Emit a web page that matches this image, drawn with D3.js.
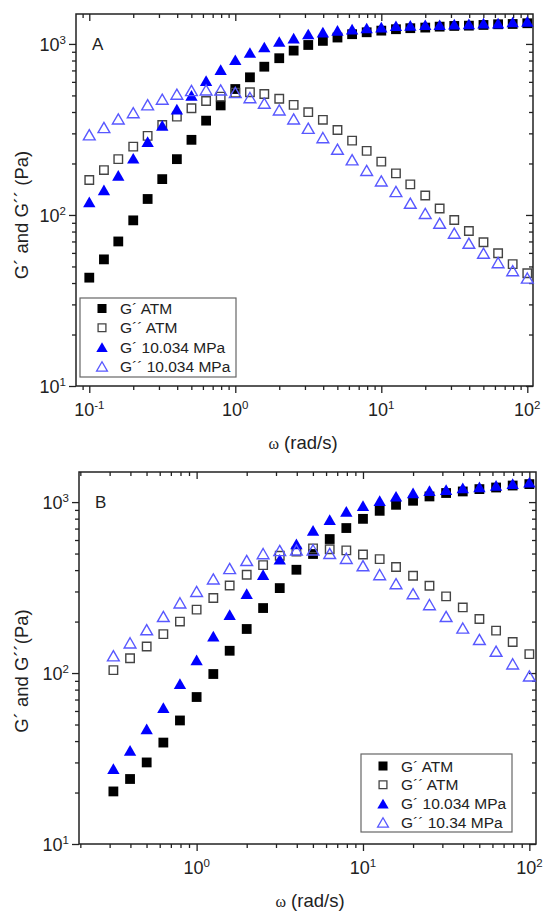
<!DOCTYPE html>
<html>
<head>
<meta charset="utf-8">
<script src="https://cdn.jsdelivr.net/npm/d3@7"></script>
<style>
body { margin: 0; background: #fff; }
svg { display: block; font-family: "Liberation Sans", Arial, sans-serif; }
</style>
</head>
<body>
<script>
// angular frequency (rad/s)
const omegaA = [0.1, 0.126, 0.158, 0.2, 0.251, 0.316, 0.398, 0.501, 0.631, 0.794,
  1, 1.26, 1.58, 2, 2.51, 3.16, 3.98, 5.01, 6.31, 7.94,
  10, 12.6, 15.8, 20, 25.1, 31.6, 39.8, 50.1, 63.1, 79.4, 100];
const omegaB = [0.316, 0.398, 0.501, 0.631, 0.794,
  1, 1.26, 1.58, 2, 2.51, 3.16, 3.98, 5.01, 6.31, 7.94,
  10, 12.6, 15.8, 20, 25.1, 31.6, 39.8, 50.1, 63.1, 79.4, 100];

// panel A moduli (Pa)
const gpAtmA = [43, 55, 70, 93, 124, 162, 212, 275, 356, 437, 545, 638, 736, 825, 914, 986,
  1042, 1090, 1140, 1170, 1196, 1219, 1236, 1246, 1262, 1274, 1279, 1291, 1303, 1308, 1321];
const gppAtmA = [160, 183, 212, 251, 290, 336, 376, 421, 464, 492, 519, 522, 510, 478, 440, 399,
  360, 314, 272, 237, 205, 175, 151, 130, 109, 93.5, 80.6, 69.2, 59.7, 51.6, 45.6];
const gpHpA = [119, 140, 170, 214, 268, 333, 415, 499, 608, 705, 806, 889, 957, 1031, 1080, 1140,
  1170, 1196, 1219, 1236, 1251, 1274, 1279, 1291, 1291, 1303, 1308, 1321, 1321, 1340, 1352];
const gppHpA = [294, 324, 364, 396, 440, 475, 508, 533, 538, 538, 519, 485, 450, 411, 364, 321,
  283, 242, 210, 182, 158, 137, 117, 102, 89.4, 78.2, 68.3, 59.7, 52.6, 47.2, 42.7];

// panel B moduli (Pa)
const gpAtmB = [20.3, 24.0, 30.0, 39.2, 52.8, 72.4, 98.7, 135, 181, 240, 314, 402, 497,
  608, 705, 798, 889, 964, 1018, 1079, 1130, 1154, 1191, 1217, 1250, 1274];
const gppAtmB = [104, 122, 143, 169, 200, 235, 275, 325, 376, 428, 485, 514, 536,
  530, 522, 494, 464, 417, 371, 324, 281, 242, 207, 177, 152, 129];
const gpHpB = [27.5, 35.2, 47.0, 62.6, 86.5, 119, 164, 219, 291, 376, 462, 568, 682,
  788, 881, 951, 1018, 1079, 1130, 1164, 1180, 1208, 1224, 1250, 1279, 1303];
const gppHpB = [126, 150, 179, 214, 257, 300, 355, 408, 455, 499, 520, 524, 525,
  500, 468, 424, 376, 333, 291, 251, 214, 183, 157, 134, 113, 96];

const legendA = ["G\u00b4 ATM", "G\u00b4\u00b4 ATM", "G\u00b4 10.034 MPa", "G\u00b4\u00b4 10.034 MPa"];
const legendB = ["G\u00b4 ATM", "G\u00b4\u00b4 ATM", "G\u00b4 10.034 MPa", "G\u00b4\u00b4 10.34 MPa"];

const W = 550, H = 911;
const svg = d3.select("body").append("svg")
    .attr("width", W)
    .attr("height", H);

svg.append("rect").attr("width", W).attr("height", H).attr("fill", "#fff");

// marker styles in legend order
const styles = [
  {shape: d3.symbolSquare, size: 96, fill: "#000", stroke: "none", dy: 0},
  {shape: d3.symbolSquare, size: 72, fill: "none", stroke: "#444", dy: 0},
  {shape: d3.symbolTriangle, size: 66, fill: "#0000ff", stroke: "none", dy: 1.6},
  {shape: d3.symbolTriangle, size: 60, fill: "none", stroke: "#5858ff", dy: 1.6},
];

function drawPanel(p) {
  const x = d3.scaleLog().domain(p.xDomain).range([p.left, p.right]);
  const y = d3.scaleLog().domain(p.yDomain).range([p.bottom, p.top]);
  const g = svg.append("g");

  const isMajor = v => Math.abs(Math.log10(v) - Math.round(Math.log10(v))) < 1e-6;
  const xt = x.ticks(), yt = y.ticks();
  const xMaj = xt.filter(isMajor), xMin = xt.filter(v => !isMajor(v));
  const yMaj = yt.filter(isMajor), yMin = yt.filter(v => !isMajor(v));

  function ticks(axis, tr, vals, size) {
    g.append("g")
        .attr("transform", tr)
        .call(axis.tickValues(vals).tickSize(size).tickFormat(""))
        .call(s => s.select(".domain").remove())
        .selectAll("line")
        .attr("stroke", "#222")
        .attr("stroke-width", 1.3);
  }
  // bottom/left point out, top/right point in (same direction as Origin)
  ticks(d3.axisBottom(x), `translate(0,${p.bottom})`, xMaj, 7);
  ticks(d3.axisBottom(x), `translate(0,${p.bottom})`, xMin, 4);
  ticks(d3.axisTop(x), `translate(0,${p.top})`, xMaj, -7);
  ticks(d3.axisTop(x), `translate(0,${p.top})`, xMin, -4);
  ticks(d3.axisLeft(y), `translate(${p.left},0)`, yMaj, 7);
  ticks(d3.axisLeft(y), `translate(${p.left},0)`, yMin, 4);
  ticks(d3.axisRight(y), `translate(${p.right},0)`, yMaj, -7);
  ticks(d3.axisRight(y), `translate(${p.right},0)`, yMin, -4);

  g.append("rect")
      .attr("x", p.left).attr("y", p.top)
      .attr("width", p.right - p.left).attr("height", p.bottom - p.top)
      .attr("fill", "none")
      .attr("stroke", "#222")
      .attr("stroke-width", 1.5);

  // tick labels, 10 with superscript exponent
  const xl = g.append("g").selectAll("text").data(xMaj).join("text")
      .attr("x", d => x(d))
      .attr("y", p.bottom + 30)
      .attr("text-anchor", "middle")
      .attr("font-size", 18)
      .attr("fill", "#222");
  xl.append("tspan").text("10");
  xl.append("tspan").attr("dy", -7).attr("font-size", 11.5)
      .text(d => Math.round(Math.log10(d)));

  const yl = g.append("g").selectAll("text").data(yMaj).join("text")
      .attr("x", p.left - 10)
      .attr("y", d => y(d) + 7)
      .attr("text-anchor", "end")
      .attr("font-size", 18)
      .attr("fill", "#222");
  yl.append("tspan").text("10");
  yl.append("tspan").attr("dy", -7).attr("font-size", 11.5)
      .text(d => Math.round(Math.log10(d)));

  // axis titles
  const xt2 = g.append("text")
      .attr("x", p.xTitleX)
      .attr("y", p.bottom + 63)
      .attr("text-anchor", "middle")
      .attr("font-size", 18.5)
      .attr("fill", "#222");
  xt2.append("tspan").attr("font-family", "'Liberation Serif', serif").attr("font-size", 16).text("\u03c9");
  xt2.append("tspan").text(" (rad/s)");

  g.append("text")
      .attr("transform", `translate(28,${p.yTitleY}) rotate(-90)`)
      .attr("text-anchor", "middle")
      .attr("font-size", 18.5)
      .attr("fill", "#222")
      .text(p.yTitle);

  g.append("text")
      .attr("x", p.left + 16)
      .attr("y", y(1000) + 6)
      .attr("font-size", 17)
      .attr("fill", "#222")
      .text(p.label);

  // data
  p.series.forEach((vals, i) => {
    const st = styles[i];
    const sym = d3.symbol(st.shape, st.size);
    g.append("g").selectAll("path")
        .data(p.omega.map((w, j) => [w, vals[j]]))
        .join("path")
        .attr("d", sym)
        .attr("transform", d => `translate(${x(d[0])},${y(d[1]) + st.dy})`)
        .attr("fill", st.fill)
        .attr("stroke", st.stroke)
        .attr("stroke-width", 1.4);
  });

  // legend
  const L = p.legend;
  const lg = g.append("g");
  lg.append("rect")
      .attr("x", L.x).attr("y", L.y)
      .attr("width", L.w).attr("height", L.h)
      .attr("fill", "#fff")
      .attr("stroke", "#666")
      .attr("stroke-width", 1.2);
  p.legendText.forEach((t, i) => {
    const st = styles[i];
    const cy = L.y + L.first + i * L.step;
    lg.append("path")
        .attr("d", d3.symbol(st.shape, st.size * 0.85)())
        .attr("transform", `translate(${L.x + L.sym},${cy + st.dy})`)
        .attr("fill", st.fill)
        .attr("stroke", st.stroke)
        .attr("stroke-width", 1.3);
    lg.append("text")
        .attr("x", L.x + L.txt)
        .attr("y", cy + 5.5)
        .attr("font-size", 15.5)
        .attr("fill", "#222")
        .text(t);
  });
}

drawPanel({
  left: 76, right: 533, top: 14, bottom: 386,
  xDomain: [Math.pow(10, -1.091), Math.pow(10, 2.039)],
  yDomain: [10, Math.pow(10, 3.175)],
  omega: omegaA,
  series: [gpAtmA, gppAtmA, gpHpA, gppHpA],
  legendText: legendA,
  legend: {x: 80, y: 298, w: 156, h: 79, first: 10.5, step: 19.3, sym: 22, txt: 40},
  xTitleX: 303, yTitleY: 215,
  yTitle: "G\u00b4 and G\u00b4\u00b4 (Pa)",
  label: "A"
});

drawPanel({
  left: 79, right: 536, top: 472, bottom: 844,
  xDomain: [Math.pow(10, -0.707), Math.pow(10, 2.04)],
  yDomain: [10, Math.pow(10, 3.176)],
  omega: omegaB,
  series: [gpAtmB, gppAtmB, gpHpB, gppHpB],
  legendText: legendB,
  legend: {x: 361, y: 754, w: 151, h: 78, first: 12, step: 18.8, sym: 22, txt: 40},
  xTitleX: 310, yTitleY: 671,
  yTitle: "G\u00b4 and G\u00b4\u00b4(Pa)",
  label: "B"
});
</script>
</body>
</html>
